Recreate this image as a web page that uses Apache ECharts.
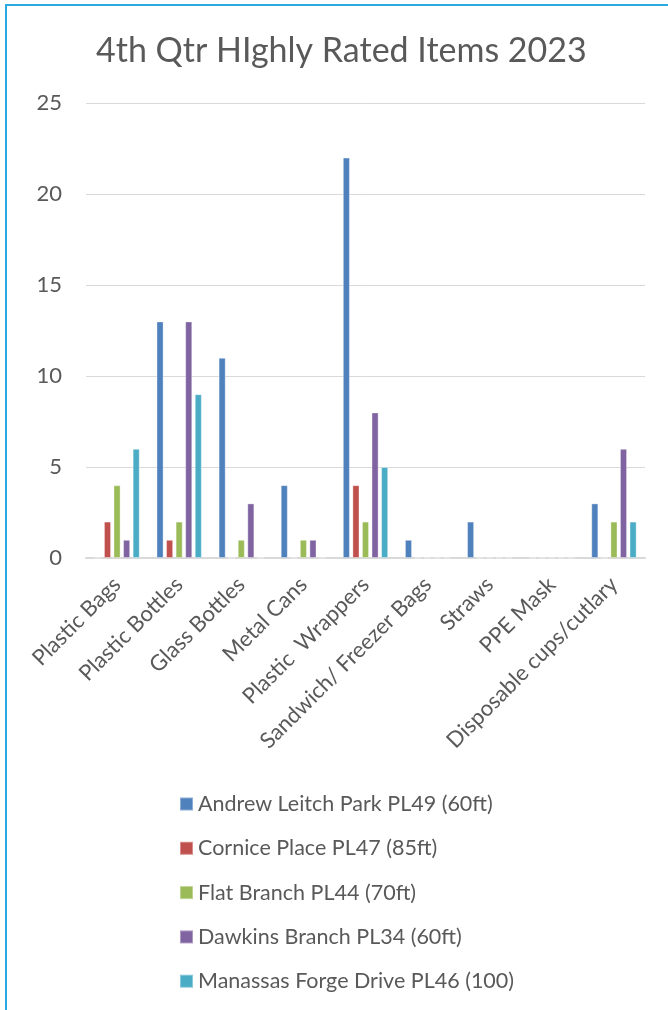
<!DOCTYPE html>
<html>
<head>
<meta charset="utf-8">
<script src="https://cdn.jsdelivr.net/npm/echarts@6/dist/echarts.min.js"></script>
<style>
  html, body { margin: 0; padding: 0; background: #fff; overflow: hidden; }
  #chart { width: 668px; height: 1010px; }
</style>
</head>
<body>
<div id="chart"></div>
<script>
// Litter survey: items counted per site, 4th quarter 2023
const categories = [
  'Plastic Bags', 'Plastic Bottles', 'Glass Bottles', 'Metal Cans',
  'Plastic  Wrappers', 'Sandwich/ Freezer Bags', 'Straws', 'PPE Mask',
  'Disposable cups/cutlary'
];
const andrewLeitch   = [0, 13, 11, 4, 22, 1, 2, 0, 3];
const cornicePlace   = [2, 1, 0, 0, 4, 0, 0, 0, 0];
const flatBranch     = [4, 2, 1, 1, 2, 0, 0, 0, 2];
const dawkinsBranch  = [1, 13, 3, 1, 8, 0, 0, 0, 6];
const manassasForge  = [6, 9, 0, 0, 5, 0, 0, 0, 2];
const seriesNames = [
  'Andrew Leitch Park PL49 (60ft)',
  'Cornice Place PL47 (85ft)',
  'Flat Branch PL44 (70ft)',
  'Dawkins Branch PL34 (60ft)',
  'Manassas Forge Drive PL46 (100)'
];
const seriesValues = [andrewLeitch, cornicePlace, flatBranch, dawkinsBranch, manassasForge];
const colors = ['#4f81bd', '#c0504d', '#9bbb59', '#8064a2', '#4bacc6'];
const yTicks = { min: 0, max: 25, interval: 5 };

const FONT = 'Lato, "Open Sans", sans-serif';
const TEXT = '#595959';

const chart = echarts.init(document.getElementById('chart'), null, { renderer: 'canvas' });
chart.setOption({
  animation: false,
  backgroundColor: '#fff',
  color: colors,
  graphic: [{
    type: 'rect',
    shape: { x: 6, y: 5, width: 700, height: 1100 },
    style: { fill: 'none', stroke: '#29abe2', lineWidth: 2 },
    silent: true
  }],
  title: {
    text: '4th Qtr HIghly Rated Items 2023',
    left: 91,
    top: 29,
    textStyle: { fontFamily: FONT, fontSize: 34, fontWeight: 'normal', color: TEXT }
  },
  legend: {
    orient: 'vertical',
    left: 174,
    top: 787,
    icon: 'rect',
    itemWidth: 13,
    itemHeight: 13,
    itemGap: 20.3,
    textStyle: { fontFamily: FONT, fontSize: 21.5, color: TEXT, lineHeight: 24 },
    data: seriesNames
  },
  grid: { left: 86, right: 23, top: 103, bottom: 452, containLabel: false },
  xAxis: {
    type: 'category',
    data: categories,
    axisLine: { lineStyle: { color: '#d9d9d9', width: 2 } },
    axisTick: { show: false },
    axisLabel: {
      interval: 0,
      rotate: 45,
      margin: 23,
      fontFamily: FONT,
      fontSize: 22,
      color: TEXT
    }
  },
  yAxis: {
    type: 'value',
    min: yTicks.min,
    max: yTicks.max,
    interval: yTicks.interval,
    axisLine: { show: false },
    axisTick: { show: false },
    splitLine: { lineStyle: { color: '#d9d9d9', width: 1 } },
    axisLabel: { margin: 24, fontFamily: FONT, fontSize: 22, color: TEXT }
  },
  series: seriesNames.map((name, i) => ({
    name,
    type: 'bar',
    data: seriesValues[i],
    barGap: '35%',
    barCategoryGap: '27%',
    itemStyle: { borderColor: 'rgba(255,255,255,0.35)', borderWidth: 1 }
  }))
});
</script>
</body>
</html>
